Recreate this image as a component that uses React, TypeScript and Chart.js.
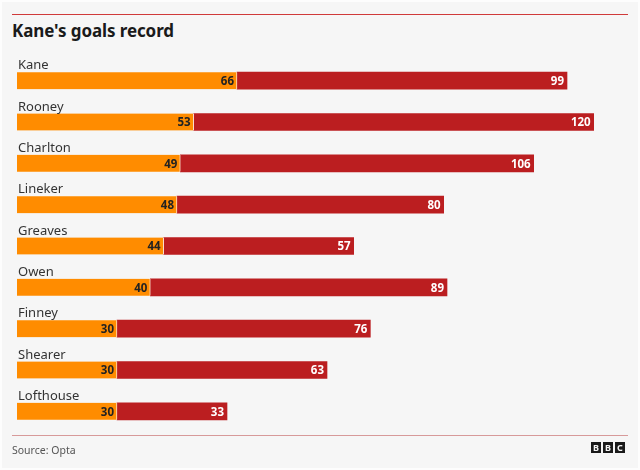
import React, { useEffect, useRef } from "react";
import { Chart, registerables } from "chart.js";

Chart.register(...registerables);

const players = ["Kane", "Rooney", "Charlton", "Lineker", "Greaves", "Owen", "Finney", "Shearer", "Lofthouse"];
const goals = [66, 53, 49, 48, 44, 40, 30, 30, 30];
const caps = [99, 120, 106, 80, 57, 89, 76, 63, 33];

const FONT = '"Noto Sans", "Open Sans", sans-serif';

const labelPlugin = {
  id: "barLabels",
  afterDatasetsDraw(chart: any) {
    const ctx = chart.ctx;
    ctx.save();
    const meta0 = chart.getDatasetMeta(0);
    meta0.data.forEach((bar: any, i: number) => {
      const h = bar.height;
      ctx.font = `13px ${FONT}`;
      ctx.fillStyle = "#333333";
      ctx.textAlign = "left";
      ctx.textBaseline = "alphabetic";
      ctx.fillText(players[i], chart.chartArea.left + 1, bar.y - h / 2 - 3);
    });
    chart.data.datasets.forEach((ds: any, di: number) => {
      const meta = chart.getDatasetMeta(di);
      meta.data.forEach((bar: any, i: number) => {
        ctx.font = `bold 11.5px ${FONT}`;
        ctx.fillStyle = di === 0 ? "#222222" : "#ffffff";
        ctx.textAlign = "right";
        ctx.textBaseline = "middle";
        ctx.fillText(String(ds.data[i]), bar.x - 3, bar.y + 1);
      });
    });
    ctx.restore();
  },
};

export default function App() {
  const ref = useRef<HTMLCanvasElement | null>(null);
  useEffect(() => {
    document.body.style.margin = "0";
    const chart = new Chart(ref.current as HTMLCanvasElement, {
      type: "bar",
      data: {
        labels: players,
        datasets: [
          {
            label: "Goals",
            data: goals,
            backgroundColor: "#ff8c00",
            borderColor: "rgba(255,235,215,0.9)",
            borderWidth: { right: 1, left: 0, top: 0, bottom: 0 },
            borderSkipped: false,
            barThickness: 17,
          },
          {
            label: "Caps",
            data: caps,
            backgroundColor: "#bb1e20",
            borderWidth: 0,
            barThickness: 17,
          },
        ],
      },
      options: {
        indexAxis: "y",
        animation: false,
        responsive: false,
        layout: { padding: { left: 17, right: 13, top: 60, bottom: 38 } },
        plugins: { legend: { display: false }, tooltip: { enabled: false } },
        scales: {
          x: { stacked: true, display: false, min: 0, max: 183 },
          y: { stacked: true, display: false },
        },
      },
      plugins: [labelPlugin],
    });
    return () => chart.destroy();
  }, []);

  return (
    <div style={{ position: "relative", width: 640, height: 470, background: "#fdfdfd", overflow: "hidden" }}>
      <div style={{ position: "absolute", left: 2, top: 2, right: 2, bottom: 2, background: "#f6f6f6" }} />
      <div style={{ position: "absolute", left: 12, top: 14, width: 616, height: 1, background: "#d03a3a" }} />
      <div
        style={{
          position: "absolute",
          left: 12,
          top: 19,
          fontFamily: FONT,
          fontWeight: 700,
          fontSize: 17,
          color: "#1a1a1a",
          letterSpacing: -0.1,
          lineHeight: "24px",
        }}
      >
        Kane's goals record
      </div>
      <canvas ref={ref} width={640} height={470} style={{ position: "absolute", left: 0, top: 0 }} />
      <div style={{ position: "absolute", left: 12, top: 435, width: 616, height: 1, background: "#d79a9a" }} />
      <div
        style={{
          position: "absolute",
          left: 12,
          top: 442,
          fontFamily: FONT,
          fontSize: 10.5,
          color: "#555555",
          lineHeight: "16px",
        }}
      >
        Source: Opta
      </div>
      <div style={{ position: "absolute", left: 591, top: 442, display: "flex", gap: 2 }}>
        {["B", "B", "C"].map((c, i) => (
          <div
            key={i}
            style={{
              width: 10,
              height: 11,
              background: "#1a1a1a",
              color: "#f6f6f6",
              fontFamily: FONT,
              fontWeight: 700,
              fontSize: 9,
              lineHeight: "11px",
              textAlign: "center",
            }}
          >
            {c}
          </div>
        ))}
      </div>
    </div>
  );
}
